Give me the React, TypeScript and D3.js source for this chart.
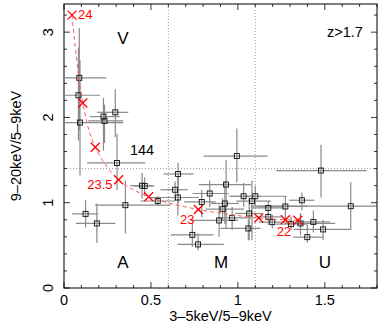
import React from 'react'
import * as d3 from 'd3'

// observed sources: ratio values and error bar ends
const srcX = [0.088, 0.083, 0.092, 0.227, 0.233, 0.295, 0.305, 0.449, 0.464, 0.539, 0.353, 0.124, 0.189,
  0.994, 0.656, 0.639, 0.655, 0.932, 0.838, 0.792, 0.925, 0.912, 0.892, 0.967, 1.033, 1.081, 1.10, 1.065,
  1.06, 0.738, 0.771, 1.478, 1.368, 1.649, 1.175, 1.273, 1.175, 1.198, 1.306, 1.36, 1.434, 1.49, 1.399]
const srcY = [2.464, 2.26, 1.94, 2.01, 1.96, 2.06, 1.466, 1.20, 1.196, 1.02, 0.971, 0.869, 0.757,
  1.547, 1.337, 1.152, 1.061, 1.213, 1.108, 1.009, 0.991, 0.924, 0.792, 0.822, 1.076, 1.018, 1.076, 0.874,
  0.698, 0.623, 0.511, 1.377, 1.029, 0.959, 0.939, 0.956, 0.834, 0.772, 0.749, 0.757, 0.775, 0.687, 0.596]
const srcXLo = [0.006, 0.006, 0.006, 0.15, 0.139, 0.191, 0.133, 0.38, 0.40, 0.44, 0.179, 0.046, 0.069,
  0.803, 0.572, 0.555, 0.497, 0.775, 0.74, 0.69, 0.844, 0.815, 0.728, 0.884, 0.948, 0.99, 0.96, 0.985,
  0.90, 0.613, 0.653, 1.22, 1.295, 1.075, 1.075, 1.11, 1.10, 1.12, 1.22, 1.27, 1.36, 1.32, 1.318]
const srcXHi = [0.243, 0.208, 0.341, 0.32, 0.341, 0.37, 0.468, 0.51, 0.52, 0.64, 0.613, 0.197, 0.295,
  1.17, 0.746, 0.711, 0.775, 1.075, 0.948, 0.873, 1.006, 1.035, 1.0, 1.075, 1.133, 1.19, 1.28, 1.14,
  1.13, 0.861, 0.919, 1.74, 1.439, 1.80, 1.266, 1.40, 1.25, 1.28, 1.40, 1.56, 1.53, 1.65, 1.49]
const srcYLo = [1.85, 1.73, 1.32, 1.61, 1.70, 1.77, 1.15, 1.05, 1.08, 0.97, 0.64, 0.71, 0.53,
  1.24, 0.99, 1.02, 0.85, 0.70, 0.95, 0.83, 0.75, 0.80, 0.60, 0.68, 0.95, 0.56, 0.96, 0.56,
  0.56, 0.48, 0.44, 1.06, 0.91, 0.68, 0.85, 0.80, 0.74, 0.70, 0.68, 0.62, 0.65, 0.56, 0.53]
const srcYHi = [3.05, 2.82, 2.67, 2.23, 2.15, 2.33, 1.81, 1.35, 1.30, 1.08, 1.26, 1.03, 0.99,
  1.87, 1.47, 1.25, 1.30, 1.50, 1.26, 1.15, 1.25, 1.05, 0.97, 0.95, 1.23, 1.26, 1.20, 1.06,
  0.80, 0.77, 0.64, 1.68, 1.12, 1.24, 1.02, 1.08, 0.92, 0.86, 0.84, 0.88, 0.91, 0.80, 0.74]

// model track (red crosses)
const modelX = [0.046, 0.108, 0.18, 0.314, 0.487, 0.773, 1.12, 1.273, 1.345]
const modelY = [3.2, 2.17, 1.65, 1.27, 1.07, 0.92, 0.82, 0.80, 0.795]
const modelLabels = ['24', '', '', '23.5', '', '23', '', '', '22']

const xTicks = [0, 0.5, 1, 1.5]
const yTicks = [0, 1, 2, 3]
const xCuts = [0.6, 1.1]
const yCut = 1.4

const W = 382
const H = 327
const L = 64, R = 377, T = 4, B = 288

export default function App() {
  const x = d3.scaleLinear().domain([0, 1.8]).range([L, R])
  const y = d3.scaleLinear().domain([0, 3.33]).range([B, T])
  const font = 'Liberation Sans, Arial, Helvetica, sans-serif'

  const minorX = d3.range(0, 1.81, 0.1)
  const minorY = d3.range(0, 3.31, 0.2)

  const line = d3.line<number>()
    .x((_, i) => x(modelX[i]))
    .y((_, i) => y(modelY[i]))
    .curve(d3.curveCatmullRom)

  const grey = '#8a8a8a'

  return (
    <svg width={W} height={H} style={{ position: 'absolute', left: 0, top: 0 }}>
      <rect width={W} height={H} fill="#fff" />
      <defs>
        <clipPath id="plot"><rect x={L} y={T} width={R - L} height={B - T} /></clipPath>
      </defs>

      {/* dotted region cuts */}
      {xCuts.map(c => (
        <line key={c} x1={x(c)} x2={x(c)} y1={T} y2={B} stroke="#999" strokeWidth={1} strokeDasharray="1,2" />
      ))}
      <line x1={L} x2={R} y1={y(yCut)} y2={y(yCut)} stroke="#999" strokeWidth={1} strokeDasharray="1,2" />

      <g clipPath="url(#plot)">
        {srcX.map((v, i) => (
          <g key={i} stroke={grey} strokeWidth={1.2}>
            <line x1={x(srcXLo[i])} x2={x(srcXHi[i])} y1={y(srcY[i])} y2={y(srcY[i])} />
            <line x1={x(v)} x2={x(v)} y1={y(srcYLo[i])} y2={y(srcYHi[i])} />
          </g>
        ))}
        {srcX.map((v, i) => (
          <rect key={'s' + i} x={x(v) - 2.5} y={y(srcY[i]) - 2.5} width={5} height={5}
            fill="none" stroke="#111" strokeWidth={0.9} />
        ))}
        <path d={line(modelX) || ''} fill="none" stroke="#ff5a5a" strokeWidth={1} strokeDasharray="4,3" />
        {modelX.map((v, i) => {
          const cx = x(v), cy = y(modelY[i]), s = 4.5
          return (
            <g key={'m' + i} stroke="#ff0000" strokeWidth={1.3}>
              <line x1={cx - s} x2={cx + s} y1={cy - s} y2={cy + s} />
              <line x1={cx - s} x2={cx + s} y1={cy + s} y2={cy - s} />
            </g>
          )
        })}
      </g>

      {/* model labels */}
      <g fill="#ff0000" fontFamily={font} fontSize={13}>
        <text x={x(modelX[0]) + 6} y={y(modelY[0]) + 4}>{modelLabels[0]}</text>
        <text x={x(modelX[3]) - 6} y={y(modelY[3]) + 9} textAnchor="end">{modelLabels[3]}</text>
        <text x={x(modelX[5]) - 4} y={y(modelY[5]) + 14} textAnchor="end">{modelLabels[5]}</text>
        <text x={x(modelX[8]) - 14} y={y(modelY[8]) + 16} textAnchor="middle">{modelLabels[8]}</text>
      </g>

      {/* frame and ticks */}
      <rect x={L} y={T} width={R - L} height={B - T} fill="none" stroke="#000" strokeWidth={1} />
      {minorX.map((t, i) => {
        const len = i % 5 === 0 ? 6 : 3
        return (
          <g key={'tx' + i} stroke="#000" strokeWidth={0.8}>
            <line x1={x(t)} x2={x(t)} y1={B} y2={B - len} />
            <line x1={x(t)} x2={x(t)} y1={T} y2={T + len} />
          </g>
        )
      })}
      {minorY.map((t, i) => {
        const len = i % 5 === 0 ? 6 : 3
        return (
          <g key={'ty' + i} stroke="#000" strokeWidth={0.8}>
            <line x1={L} x2={L + len} y1={y(t)} y2={y(t)} />
            <line x1={R} x2={R - len} y1={y(t)} y2={y(t)} />
          </g>
        )
      })}

      <g fontFamily={font} fontSize={14.5} fill="#000">
        {xTicks.map(t => (
          <text key={t} x={x(t)} y={B + 17} textAnchor="middle">{t}</text>
        ))}
        {yTicks.map(t => (
          <text key={t} transform={`translate(${L - 11},${y(t)}) rotate(-90)`} textAnchor="middle">{t}</text>
        ))}
        <text x={(L + R) / 2} y={321} textAnchor="middle">3–5keV/5–9keV</text>
        <text transform={`translate(21,${(T + B) / 2}) rotate(-90)`} textAnchor="middle">9–20keV/5–9keV</text>
        <text x={345} y={37} textAnchor="middle">z&gt;1.7</text>
        <text x={142} y={155} textAnchor="middle">144</text>
      </g>
      <g fontFamily={font} fontSize={17} fill="#000" textAnchor="middle">
        <text x={123} y={44}>V</text>
        <text x={123} y={268}>A</text>
        <text x={221} y={268}>M</text>
        <text x={325} y={268}>U</text>
      </g>
    </svg>
  )
}
